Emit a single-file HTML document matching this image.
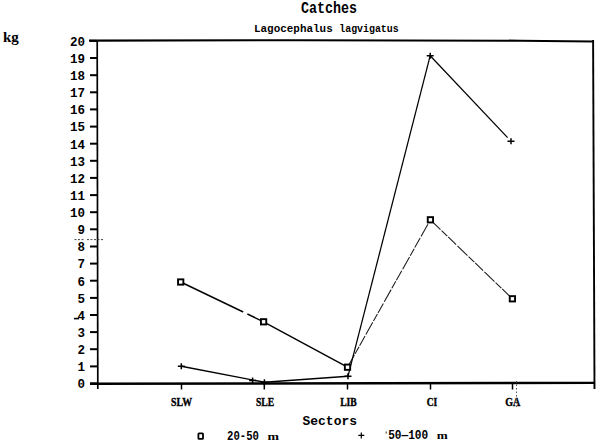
<!DOCTYPE html>
<html><head><meta charset="utf-8"><style>
html,body{margin:0;padding:0;background:#fff;width:600px;height:446px;overflow:hidden}
svg{display:block}
.ax{stroke:#000;stroke-width:2}
.tk{stroke:#000;stroke-width:1.5}
.yl{font-family:"Liberation Mono",monospace;font-weight:bold;font-size:12.5px;text-anchor:end;fill:#000}
.xl{font-family:"Liberation Serif",serif;font-weight:bold;font-size:12px;fill:#000;stroke:#000;stroke-width:0.4}
.s1{fill:none;stroke:#000;stroke-width:1.4}
.s2{fill:none;stroke:#1a1a1a;stroke-width:1.05;stroke-dasharray:14 1.5 8 1.2 11 1.8}
.s3{fill:none;stroke:#000;stroke-width:1.25}
.sq{fill:#fff;stroke:#000;stroke-width:1.9}
.pl{fill:none;stroke:#000;stroke-width:1.5}
.mono{font-family:"Liberation Mono",monospace;font-weight:bold;fill:#000}
.serif{font-family:"Liberation Serif",serif;font-weight:bold;fill:#000}
.nz{stroke:#444;stroke-width:1;fill:none}
</style></head><body>
<svg width="600" height="446" viewBox="0 0 600 446">
<text x="3" y="42" class="serif" font-size="15">kg</text>
<g transform="translate(301,12.7) scale(1,1.2)"><text x="0" y="0" class="mono" font-size="13.5" textLength="56" lengthAdjust="spacingAndGlyphs">Catches</text></g>
<text x="254" y="32" class="mono" font-size="10.5" textLength="78.7" lengthAdjust="spacingAndGlyphs">Lagocephalus</text>
<text x="339.3" y="32" class="mono" font-size="10.5" textLength="59.4" lengthAdjust="spacingAndGlyphs">lagvigatus</text>
<path d="M89,40.6L300,40.2L520,40.7L593.2,41.5" stroke="#000" stroke-width="2.1" fill="none"/><path d="M593.1,40.1L594.5,389" stroke="#000" stroke-width="1.9" fill="none"/><path d="M97.2,40.1L97.8,389" stroke="#000" stroke-width="1.7" fill="none"/><path d="M90,383.8L595,382.9" stroke="#000" stroke-width="2.4" fill="none"/>
<line x1="90" y1="383.5" x2="97" y2="383.5" class="ax"/>
<text x="85" y="388.3" class="yl">0</text>
<line x1="90" y1="366.4" x2="97" y2="366.4" class="ax"/>
<text x="85" y="371.2" class="yl">1</text>
<line x1="90" y1="349.2" x2="97" y2="349.2" class="ax"/>
<text x="85" y="354.0" class="yl">2</text>
<line x1="90" y1="332.1" x2="97" y2="332.1" class="ax"/>
<text x="85" y="336.9" class="yl">3</text>
<line x1="90" y1="315.0" x2="97" y2="315.0" class="ax"/>
<text x="85" y="319.8" class="yl">4</text>
<line x1="90" y1="297.9" x2="97" y2="297.9" class="ax"/>
<text x="85" y="302.7" class="yl">5</text>
<line x1="90" y1="280.7" x2="97" y2="280.7" class="ax"/>
<text x="85" y="285.5" class="yl">6</text>
<line x1="90" y1="263.6" x2="97" y2="263.6" class="ax"/>
<text x="85" y="268.4" class="yl">7</text>
<line x1="90" y1="246.5" x2="97" y2="246.5" class="ax"/>
<text x="85" y="251.3" class="yl">8</text>
<line x1="90" y1="229.3" x2="97" y2="229.3" class="ax"/>
<text x="85" y="234.1" class="yl">9</text>
<line x1="90" y1="212.2" x2="97" y2="212.2" class="ax"/>
<text x="85" y="217.0" class="yl">10</text>
<line x1="90" y1="195.1" x2="97" y2="195.1" class="ax"/>
<text x="85" y="199.9" class="yl">11</text>
<line x1="90" y1="177.9" x2="97" y2="177.9" class="ax"/>
<text x="85" y="182.7" class="yl">12</text>
<line x1="90" y1="160.8" x2="97" y2="160.8" class="ax"/>
<text x="85" y="165.6" class="yl">13</text>
<line x1="90" y1="143.7" x2="97" y2="143.7" class="ax"/>
<text x="85" y="148.5" class="yl">14</text>
<line x1="90" y1="126.6" x2="97" y2="126.6" class="ax"/>
<text x="85" y="131.4" class="yl">15</text>
<line x1="90" y1="109.4" x2="97" y2="109.4" class="ax"/>
<text x="85" y="114.2" class="yl">16</text>
<line x1="90" y1="92.3" x2="97" y2="92.3" class="ax"/>
<text x="85" y="97.1" class="yl">17</text>
<line x1="90" y1="75.2" x2="97" y2="75.2" class="ax"/>
<text x="85" y="80.0" class="yl">18</text>
<line x1="90" y1="58.0" x2="97" y2="58.0" class="ax"/>
<text x="85" y="62.8" class="yl">19</text>
<line x1="90" y1="40.9" x2="97" y2="40.9" class="ax"/>
<text x="85" y="45.7" class="yl">20</text>
<line x1="181.5" y1="383" x2="181.5" y2="389.5" class="tk"/>
<line x1="264.3" y1="383" x2="264.3" y2="389.5" class="tk"/>
<line x1="347.5" y1="383" x2="347.5" y2="389.5" class="tk"/>
<line x1="430.5" y1="383" x2="430.5" y2="389.5" class="tk"/>
<line x1="512.5" y1="383" x2="512.5" y2="389.5" class="tk"/>
<text x="171.0" y="405.6" class="xl" textLength="21.0" lengthAdjust="spacingAndGlyphs">SLW</text>
<text x="256.0" y="405.6" class="xl" textLength="18.2" lengthAdjust="spacingAndGlyphs">SLE</text>
<text x="340.2" y="405.6" class="xl" textLength="16.6" lengthAdjust="spacingAndGlyphs">LIB</text>
<text x="426.7" y="405.6" class="xl" textLength="10.6" lengthAdjust="spacingAndGlyphs">CI</text>
<text x="505.3" y="405.6" class="xl" textLength="15.0" lengthAdjust="spacingAndGlyphs">GA</text>
<line x1="180.7" y1="282" x2="263.6" y2="321.8" class="s1"/>
<line x1="263.6" y1="321.8" x2="347.5" y2="367.2" class="s1"/>
<line x1="243.2" y1="312.0" x2="247.4" y2="314.0" stroke="#fff" stroke-width="2.6"/>
<line x1="347.5" y1="367.2" x2="430.4" y2="219.8" class="s2"/>
<line x1="430.4" y1="219.8" x2="512.4" y2="298.8" class="s2"/>
<line x1="181.3" y1="366.3" x2="264.4" y2="382.2" class="s1"/>
<line x1="264.4" y1="382.2" x2="348" y2="376.2" class="s1"/>
<line x1="348" y1="376.2" x2="430.2" y2="55.7" class="s3"/>
<line x1="430.2" y1="55.7" x2="507.6" y2="137.6" class="s3"/>
<rect x="178.04999999999998" y="279.35" width="5.3" height="5.3" class="sq"/>
<rect x="260.95000000000005" y="319.15000000000003" width="5.3" height="5.3" class="sq"/>
<rect x="344.85" y="364.55" width="5.3" height="5.3" class="sq"/>
<rect x="427.75" y="217.15" width="5.3" height="5.3" class="sq"/>
<rect x="509.75" y="296.15000000000003" width="5.3" height="5.3" class="sq"/>
<path d="M177.8,366.3h7M181.3,363.3v6" class="pl"/>
<path d="M260.9,382.2h7M264.4,379.2v6" class="pl"/>
<path d="M344.5,376.2h7M348,373.2v6" class="pl"/>
<path d="M426.7,55.7h7M430.2,52.7v6" class="pl"/>
<path d="M507.5,141.3h7M511,138.3v6" class="pl"/>
<path d="M249.1,380.6h7M252.6,377.6v6" class="pl"/>
<path d="M74.5,239.6h10M87,239.6h17" class="nz" stroke-dasharray="2 1.5"/>
<path d="M74,318.6h5" stroke="#000" stroke-width="1.6"/>
<path d="M516.5,381V409" stroke="#555" stroke-width="1" stroke-dasharray="1.5 2"/>
<text x="302.5" y="425.2" class="mono" font-size="13.5" textLength="54.5" lengthAdjust="spacingAndGlyphs">Sectors</text>
<rect x="198.4" y="433.4" width="4.6" height="5.4" rx="0.6" fill="none" stroke="#000" stroke-width="1.8"/>
<text x="227" y="440" class="mono" font-size="12.5" textLength="32" lengthAdjust="spacingAndGlyphs">20-50</text>
<text x="267.5" y="439.6" class="serif" font-size="11" textLength="11.5" lengthAdjust="spacingAndGlyphs">m</text>
<path d="M358.3,435.3h6M361.3,432.5v6" stroke="#000" stroke-width="1.2"/>
<text x="388.2" y="439.2" class="mono" font-size="12" textLength="40" lengthAdjust="spacingAndGlyphs">50&#8212;100</text><path d="M386.2,431.5v2" stroke="#333" stroke-width="1"/>
<text x="436.8" y="439.3" class="serif" font-size="11" textLength="11" lengthAdjust="spacingAndGlyphs">m</text>
</svg>
</body></html>
